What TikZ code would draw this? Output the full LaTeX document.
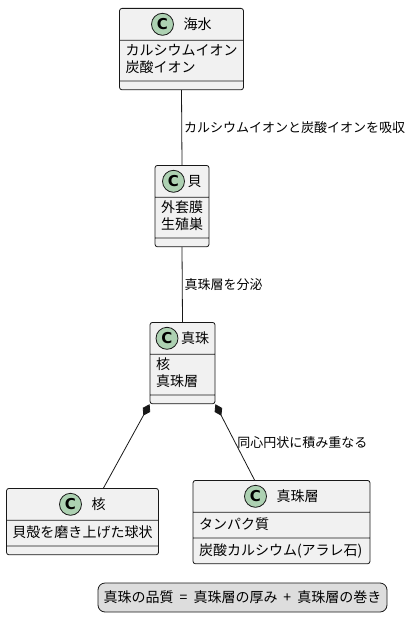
\documentclass[tikz,border=0pt]{standalone}
\usepackage{fontspec}
\setmainfont{Noto Sans CJK JP}
\newfontfamily\iconfont{DejaVu Sans}
\usepackage{tikz}
\usetikzlibrary{
  arrows.meta,
  shapes.multipart,
  calc
}
\definecolor{classbg}{HTML}{F1F1F1}
\definecolor{umlline}{HTML}{181818}
\definecolor{spotc}{HTML}{ADD1B2}
\definecolor{legendbg}{HTML}{DDDDDD}
\newcommand{\clshead}[2]{\rule[-7pt]{0pt}{25pt}\hspace*{#1}\smash{#2}}
\newcommand{\oneline}[1]{\rule[-5pt]{0pt}{19pt}\smash{#1}}
\newcommand{\twolines}[2]{\vbox{\hbox{\strut\smash{#1}}\hbox{\strut\smash{#2}}}}
\newcommand{\nomethods}{\rule{0pt}{2pt}}

\begin{document}
\begin{tikzpicture}[x=1pt,y=-1pt,
  cls/.style={rectangle split,rectangle split parts=3,draw=umlline,fill=classbg,line width=0.8pt,rounded corners=2.5pt,anchor=north,inner xsep=6pt,inner ysep=3pt,rectangle split part align={center,left,left},font=\fontsize{14pt}{17pt}\selectfont},
  spot/.style={circle,draw=umlline,fill=spotc,line width=0.8pt,minimum size=22pt,inner sep=0pt,font=\iconfont\bfseries\fontsize{15pt}{15pt}\selectfont},
  ar/.style={draw=umlline,line width=0.8pt},
  comp/.style={ar,{Diamond[length=13pt,width=8.5pt]}-},
  lbl/.style={right,inner sep=2pt,font=\fontsize{13pt}{15pt}\selectfont},
  legend/.style={draw=umlline,fill=legendbg,line width=0.8pt,rounded corners=7pt,minimum width=289pt,minimum height=29pt,inner sep=2pt,font=\fontsize{14pt}{17pt}\selectfont}
]
\useasboundingbox (0,0) rectangle (411,623);

\node[cls,minimum width=123pt] (kaisui) at (181.5,8) {\clshead{32pt}{海水}\nodepart{two}\twolines{カルシウムイオン}{炭酸イオン}\nodepart{three}\nomethods};
\node[cls,minimum width=52pt] (kai) at (182,165) {\clshead{25pt}{貝}\nodepart{two}\twolines{外套膜}{生殖巣}\nodepart{three}\nomethods};
\node[cls,minimum width=59pt] (shinju) at (182.5,322) {\clshead{25pt}{真珠}\nodepart{two}\twolines{核}{真珠層}\nodepart{three}\nomethods};
\node[cls,minimum width=151pt] (kaku) at (82.5,488) {\clshead{32pt}{核}\nodepart{two}\oneline{貝殻を磨き上げた球状}\nodepart{three}\nomethods};
\node[cls,minimum width=177pt] (shinjuso) at (281.5,480) {\clshead{32pt}{真珠層}\nodepart{two}\oneline{タンパク質}\nodepart{three}\oneline{炭酸カルシウム(アラレ石)}};

% class icons
\node[spot] (kaisuiC) at ($(kaisui.text)+(11pt,5.5pt)$) {C};
\node[spot] (kaiC) at ($(kai.text)+(11pt,5.5pt)$) {C};
\node[spot] (shinjuC) at ($(shinju.text)+(11pt,5.5pt)$) {C};
\node[spot] (kakuC) at ($(kaku.text)+(11pt,5.5pt)$) {C};
\node[spot] (shinjusoC) at ($(shinjuso.text)+(11pt,5.5pt)$) {C};

\node[legend] (quality) at (242.5,597.5) {真珠の品質\hspace{6pt}=\hspace{6pt}真珠層の厚み\hspace{6pt}+\hspace{6pt}真珠層の巻き};

\draw[ar] (kaisui.south) -- node[lbl] {カルシウムイオンと炭酸イオンを吸収} (kai.north);
\draw[ar] (kai.south) -- node[lbl] {真珠層を分泌} (shinju.north);
\draw[comp] (shinju.south west) -- ($(kaku.north)+(21pt,0pt)$);
\draw[comp] (shinju.south east) -- node[lbl] {同心円状に積み重なる} ($(shinjuso.north)+(-27pt,0pt)$);
\end{tikzpicture}
\end{document}
